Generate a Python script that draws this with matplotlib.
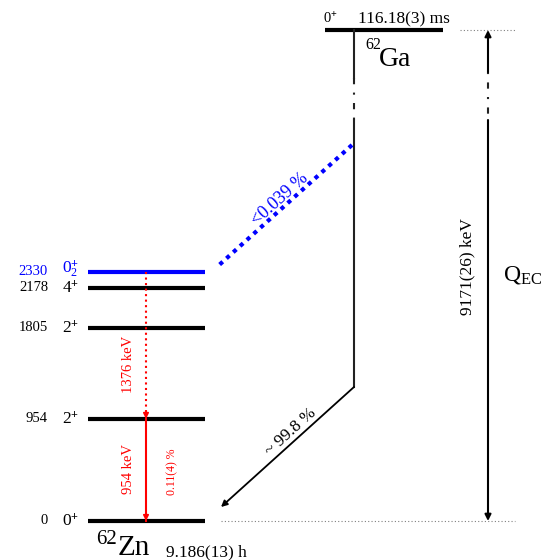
import numpy as np
import matplotlib.pyplot as plt

plt.rcParams['font.family'] = ['Liberation Serif', 'DejaVu Serif']
plt.rcParams['mathtext.fontset'] = 'custom'
plt.rcParams['mathtext.rm'] = 'Liberation Serif'
plt.rcParams['mathtext.it'] = 'Liberation Serif:italic'
plt.rcParams['mathtext.bf'] = 'Liberation Serif:bold'

# уровни 62Zn (кэВ)
energies = [0, 954, 1805, 2178, 2330]
spins = [r'$0^{\mathbf{+}}$', r'$2^{\mathbf{+}}$', r'$2^{\mathbf{+}}$',
         r'$4^{\mathbf{+}}$', r'$0_2^{\mathbf{+}}$']
level_colors = ['black', 'black', 'black', 'black', 'blue']

# 62Ga
ga_spin = r'$0^{\mathbf{+}}$'
ga_halflife = '116.18(3) ms'
zn_halflife = '9.186(13) h'
q_ec_label = '9171(26) keV'

# ветви распада
branch_main = '~ 99.8 %'
branch_02 = '<0.039 %'

# гамма-переходы: начало, конец, подпись
gamma_from = [2330, 954]
gamma_to = [954, 0]
gamma_labels = ['1376 keV', '954 keV']
gamma_styles = [':', '-']
gamma_intensity = '0.11(4) %'

# масштаб: пиксели -> кэВ
s = 0.107
y0 = 521


def py(p):
    return (y0 - p) / s


fig = plt.figure(figsize=(5.49, 5.6), dpi=100)
ax = fig.add_axes([0, 0, 1, 1])
ax.set_xlim(0, 549)
ax.set_ylim(py(560), py(0))
ax.axis('off')

# уровни Zn
for E, sp, c in zip(energies, spins, level_colors):
    ax.hlines(E, 88, 205, color=c, lw=3)
    ax.text(48, E, str(E), ha='right', va='center', fontsize=10.5, color=c)
    dy = 25 if '_2' in sp else -10
    ax.text(62, E + dy, sp, ha='left', va='center', fontsize=12.5, color=c)

# уровень Ga
ga_y = py(30)
ax.hlines(ga_y, 325, 443, color='black', lw=3)
ax.text(323, py(19), ga_spin, ha='left', va='center', fontsize=10.5)
ax.text(358, py(19), ga_halflife, ha='left', va='center', fontsize=12.5)
ax.text(365, py(45), '62', ha='left', va='center', fontsize=11.5)
ax.text(379, py(59), 'Ga', ha='left', va='center', fontsize=20)

ax.text(96, py(539), '62', ha='left', va='center', fontsize=15)
ax.text(118, py(548), 'Zn', ha='left', va='center', fontsize=21)
ax.text(166, py(552), zn_halflife, ha='left', va='center', fontsize=12.5)

# линия распада Ga с разрывом
ax.plot([354, 354], [ga_y, py(78)], color='#222222', lw=1.5)
ax.plot([354, 354], [py(78), py(120)], color='#222222', lw=1.5, ls=(0, (3, 4, 1, 4)))
ax.plot([354, 354], [py(120), py(387)], color='#222222', lw=1.5)
ax.annotate('', xy=(221, py(507)), xytext=(354, py(387)),
            arrowprops=dict(arrowstyle='-|>', color='black', lw=1.3, mutation_scale=9,
                            shrinkA=0, shrinkB=0))
ax.text(291, py(432), branch_main, ha='center', va='center', fontsize=12.5, rotation=42)

# ветвь на 0_2+
ax.plot([352, 218], [py(145), py(266)], color='blue', lw=3, ls=(0, (1, 1.2)))
ax.text(280, py(199), branch_02, ha='center', va='center', fontsize=13, rotation=42,
        color='blue')

# гамма-переходы
for a, b, st in zip(gamma_from, gamma_to, gamma_styles):
    ax.plot([146, 146], [a, b], color='red', lw=1.5, ls=st)
    ax.annotate('', xy=(146, b), xytext=(146, b + 60),
                arrowprops=dict(arrowstyle='-|>', color='red', lw=1.2, mutation_scale=8,
                                shrinkA=0, shrinkB=0))
ax.text(128, py(364), gamma_labels[0], ha='center', va='center', fontsize=10.5,
        rotation=90, color='red')
ax.text(128, py(469), gamma_labels[1], ha='center', va='center', fontsize=10.5,
        rotation=90, color='red')
ax.text(172, py(472), gamma_intensity, ha='center', va='center', fontsize=8.5,
        rotation=90, color='red')

# пунктирные продолжения
ax.plot([221, 515], [0, 0], color='gray', lw=0.8, ls=(0, (1, 2)))
ax.plot([460, 515], [ga_y, ga_y], color='gray', lw=0.8, ls=(0, (1, 2)))

# Q_EC стрелка
ax.annotate('', xy=(488, ga_y), xytext=(488, py(72)),
            arrowprops=dict(arrowstyle='-|>', color='black', lw=1.5, mutation_scale=9,
                            shrinkA=0, shrinkB=0))
ax.plot([488, 488], [py(72), py(120)], color='#222222', lw=1.5, ls=(0, (1, 4, 3, 4)))
ax.annotate('', xy=(488, 0), xytext=(488, py(120)),
            arrowprops=dict(arrowstyle='-|>', color='black', lw=1.5, mutation_scale=9,
                            shrinkA=0, shrinkB=0))
ax.text(467, py(267), q_ec_label, ha='center', va='center', fontsize=12.5, rotation=90)
ax.text(503, py(275), r'Q$_{\mathrm{EC}}$', ha='left', va='center', fontsize=17)

fig.savefig('out.png', dpi=100)
